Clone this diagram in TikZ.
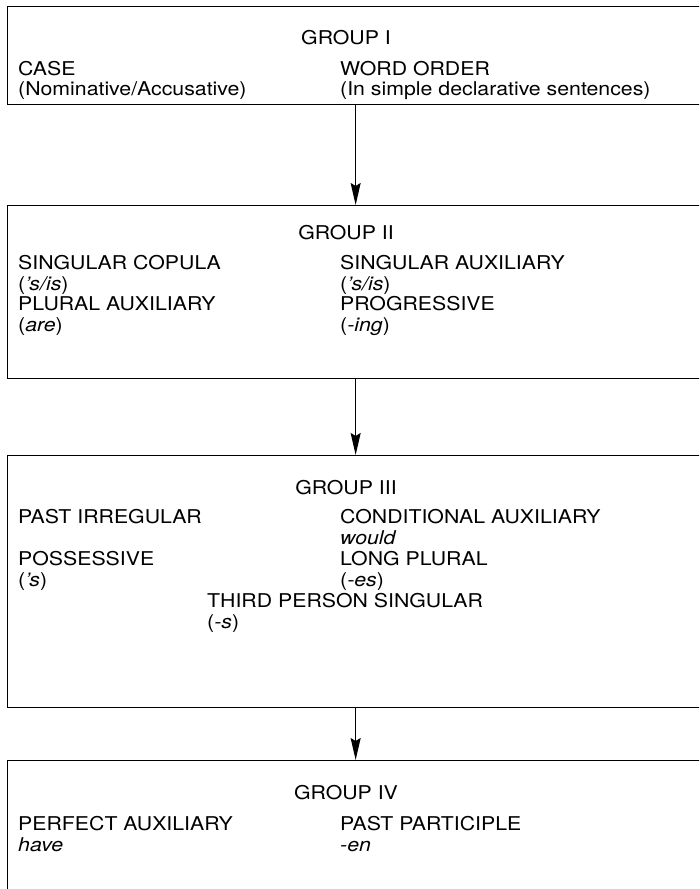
\documentclass[tikz,border=0pt]{standalone}
\usepackage{fontspec}
\setmainfont{TeX Gyre Heros}[FakeStretch=1.12]
\usetikzlibrary{arrows.meta}

\begin{document}
\begin{tikzpicture}[x=1pt,y=1pt,
  groupbox/.style={draw, line width=1.3pt, minimum width=696pt, inner sep=0pt, anchor=north west},
  title/.style={anchor=base, inner sep=0pt, font=\fontsize{19}{20.5}\selectfont},
  item/.style={anchor=base west, align=left, inner sep=0pt, font=\fontsize{19}{20.5}\selectfont},
  link/.style={-{Stealth[length=22pt,width=10pt,inset=3pt]}, line width=1.3pt}]
\useasboundingbox (0,0) rectangle (699,889);
\clip (0,0) rectangle (699,889);

% group boxes (right side runs past the page edge, last box runs off the bottom)
\node[groupbox, minimum height=98pt]  (g1) at (7,883) {};
\node[groupbox, minimum height=173pt] (g2) at (7,684) {};
\node[groupbox, minimum height=252pt] (g3) at (7,434) {};
\node[groupbox, minimum height=160pt] (g4) at (7,129) {};

% two-line items are placed by the baseline of their second line

% Group I
\node[title] (t1) at (346,844) {GROUP I};
\node[item] (case) at (18,793) {CASE\\(Nominative/Accusative)};
\node[item] (word) at (340,793) {WORD ORDER\\(In simple declarative sentences)};

% Group II
\node[title] (t2) at (346,649) {GROUP II};
\node[item] (scop) at (18,598.5) {SINGULAR COPULA\\(\textit{’s/is})};
\node[item] (saux) at (340,598.5) {SINGULAR AUXILIARY\\(\textit{’s/is})};
\node[item] (paux) at (18,557.5) {PLURAL AUXILIARY\\(\textit{are})};
\node[item] (prog) at (340,557.5) {PROGRESSIVE\\(\textit{-ing})};

% Group III
\node[title] (t3) at (346,394) {GROUP III};
\node[item] (pirr) at (18,365) {PAST IRREGULAR};
\node[item] (caux) at (340,344.5) {CONDITIONAL AUXILIARY\\\textit{would}};
\node[item] (poss) at (18,302.5) {POSSESSIVE\\(\textit{’s})};
\node[item] (lpl) at (340,302.5) {LONG PLURAL\\(\textit{-es})};
\node[item] (tps) at (207,260.5) {THIRD PERSON SINGULAR\\(\textit{-s})};

% Group IV
\node[title] (t4) at (346,89) {GROUP IV};
\node[item] (perf) at (18,37.5) {PERFECT AUXILIARY\\\textit{have}};
\node[item] (ppart) at (340,37.5) {PAST PARTICIPLE\\\textit{-en}};

% connectors between groups
\draw[link] (g1.south) -- (g2.north);
\draw[link] (g2.south) -- (g3.north);
\draw[link] (g3.south) -- (g4.north);
\end{tikzpicture}
\end{document}
